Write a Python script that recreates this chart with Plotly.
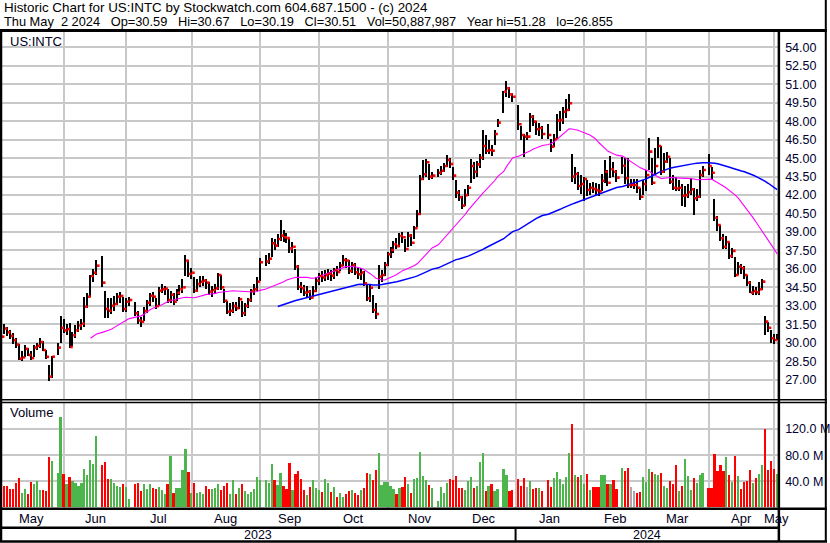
import pandas as pd
import plotly.graph_objects as go

W, H = 830, 543

# ---------------- data ----------------
holidays = ["2023-05-29", "2023-06-19", "2023-07-04", "2023-09-04", "2023-11-23",
            "2023-12-25", "2024-01-01", "2024-01-15", "2024-02-19", "2024-03-29"]

high = [
    # May 2023
    31.6, 31.5, 31.3, 31.0, 30.8, 30.4, 29.9, 29.3, 29.8, 29.6, 29.3, 29.8, 30.0, 30.4, 30.1, 29.4, 28.2, 28.9, 30.0, 32.2,
    # Jun
    31.9, 31.5, 31.6, 30.9, 31.4, 31.8, 31.9, 33.7, 34.0, 35.5, 36.0, 36.7, 37.05, 34.2, 33.6, 33.6, 33.8, 34.0, 34.1, 33.7, 33.6,
    # Jul
    33.7, 33.3, 32.6, 32.1, 32.9, 33.5, 34.0, 34.1, 33.6, 34.5, 34.8, 34.6, 34.4, 34.2, 34.0, 34.4, 34.7, 35.2, 37.13, 36.7,
    # Aug
    36.1, 35.3, 35.2, 35.4, 35.4, 35.2, 34.9, 34.6, 34.8, 35.7, 35.5, 34.4, 33.4, 33.2, 33.3, 33.3, 33.7, 33.4, 33.2, 33.6, 34.4, 34.8, 35.3,
    # Sep
    36.9, 37.1, 37.3, 38.5, 38.4, 38.8, 39.97, 39.2, 38.9, 38.4, 38.2, 37.6, 36.3, 34.9, 34.7, 34.6, 34.3, 34.6, 35.3, 35.7,
    # Oct
    35.8, 35.9, 36.0, 35.9, 36.1, 36.2, 36.6, 37.1, 36.9, 36.7, 36.6, 36.5, 36.1, 36.1, 35.8, 34.8, 34.7, 33.9, 33.2, 36.3, 35.9, 36.6,
    # Nov
    37.4, 37.8, 38.3, 38.5, 38.9, 39.0, 38.4, 39.0, 38.8, 39.5, 40.8, 43.63, 44.85, 44.9, 44.5, 43.9, 44.1, 44.4, 44.6, 45.26, 45.0,
    # Dec
    44.3, 43.23, 42.4, 41.9, 42.5, 42.8, 44.9, 44.7, 44.8, 45.3, 47.3, 46.9, 46.5, 46.1, 47.3, 48.2, 50.5, 51.28, 50.8, 50.3,
    # Jan 2024
    49.33, 47.6, 47.0, 47.1, 48.7, 48.5, 48.0, 47.9, 47.6, 47.8, 46.6, 47.0, 48.6, 48.8, 49.2, 49.8, 50.2, 45.3, 44.3, 43.9, 43.6,
    # Feb
    43.5, 43.2, 43.0, 43.1, 43.0, 42.9, 43.7, 44.85, 44.0, 45.2, 44.7, 44.0, 45.1, 45.0, 45.0, 43.3, 43.3, 43.3, 42.6, 43.2,
    # Mar
    44.0, 46.62, 45.0, 45.8, 46.7, 46.0, 45.4, 45.5, 45.0, 43.6, 43.5, 43.2, 42.9, 42.7, 42.9, 43.4, 42.6, 42.5, 44.0, 44.4,
    # Apr
    45.34, 44.3, 41.7, 40.3, 39.6, 38.8, 38.7, 38.2, 37.7, 37.0, 36.6, 36.4, 36.2, 35.5, 35.0, 34.6, 34.5, 34.9, 35.2, 32.17, 31.7, 31.0,
    # May 2024
    30.7, 30.67,
]

low = [
    30.1, 30.7, 30.55, 30.3, 29.9, 29.6, 28.6, 28.5, 28.8, 28.9, 28.6, 28.8, 29.4, 29.6, 29.3, 28.7, 26.86, 27.1, 29.0, 30.0,
    30.8, 30.6, 29.55, 29.7, 30.4, 30.9, 31.0, 31.3, 32.8, 33.7, 34.9, 35.5, 34.55, 32.0, 32.0, 32.3, 32.6, 33.1, 33.2, 32.5, 32.5,
    33.0, 32.2, 31.5, 31.3, 31.8, 32.4, 33.0, 33.3, 32.7, 33.0, 34.0, 33.9, 33.2, 33.2, 33.1, 33.4, 33.9, 34.0, 35.4, 35.3,
    35.2, 34.0, 34.1, 34.5, 34.6, 34.4, 33.9, 33.7, 34.0, 34.3, 34.3, 33.2, 32.3, 32.2, 32.4, 32.6, 32.7, 32.1, 32.2, 32.8, 33.3, 33.9, 34.2,
    35.0, 36.2, 36.4, 37.0, 37.5, 37.8, 38.3, 38.2, 38.1, 37.3, 37.3, 35.9, 34.3, 34.0, 33.8, 33.7, 33.5, 33.7, 34.1, 34.7,
    34.9, 35.0, 35.1, 35.0, 35.2, 35.4, 35.8, 36.2, 36.1, 35.6, 35.7, 35.5, 35.2, 35.1, 34.6, 33.4, 33.3, 32.4, 31.93, 34.4, 34.9, 35.4,
    36.2, 36.9, 37.3, 37.6, 37.8, 38.1, 37.4, 37.8, 37.9, 38.4, 39.4, 40.4, 43.2, 43.5, 43.2, 43.3, 43.5, 43.6, 43.9, 44.3, 44.2,
    43.2, 41.74, 41.5, 40.9, 41.1, 41.9, 43.0, 43.3, 43.5, 44.2, 44.85, 45.3, 45.3, 45.2, 46.1, 47.5, 48.65, 50.0, 49.9, 49.6,
    47.3, 46.5, 45.1, 46.5, 47.16, 47.6, 46.9, 46.8, 46.6, 46.6, 45.5, 45.9, 46.6, 47.2, 47.8, 48.3, 48.8, 43.1, 42.9, 42.4, 42.1,
    41.5, 41.9, 42.0, 42.2, 42.0, 41.9, 42.3, 43.0, 42.7, 43.4, 43.5, 43.1, 43.7, 42.9, 42.6, 42.6, 42.5, 42.2, 41.6, 42.0,
    42.3, 44.0, 42.8, 43.6, 45.0, 43.6, 43.8, 44.6, 42.9, 42.4, 42.3, 42.3, 41.1, 41.0, 41.8, 42.0, 40.4, 41.5, 41.8, 43.5,
    43.6, 43.3, 39.9, 39.1, 38.3, 37.6, 37.6, 36.8, 36.9, 35.3, 35.5, 35.6, 35.2, 34.6, 34.0, 33.9, 33.9, 33.9, 34.3, 30.6, 30.9, 30.0,
    29.9, 30.19,
]

close = [
    30.49, 31.15, 30.85, 30.55, 30.2, 29.85, 28.7, 28.8, 29.5, 29.0, 28.75, 29.6, 29.75, 30.05, 29.4, 28.85, 27.24, 28.86, 29.6, 31.2,
    31.0, 31.1, 29.65, 30.6, 31.0, 31.4, 31.55, 32.93, 33.74, 35.42, 35.69, 36.26, 34.88, 32.74, 32.6, 33.0, 33.15, 33.74, 33.8, 32.74, 33.33,
    33.47, 32.39, 31.8, 31.7, 32.58, 33.25, 33.82, 33.74, 32.98, 34.23, 34.34, 34.4, 33.47, 33.9, 33.33, 34.06, 34.34, 34.5, 36.67, 35.59,
    35.69, 34.23, 34.77, 34.96, 35.05, 34.88, 34.15, 34.28, 34.42, 35.5, 34.5, 33.41, 32.52, 32.6, 32.98, 32.8, 33.53, 32.4, 33.0, 33.47, 34.2, 34.34, 34.96,
    36.54, 36.6, 36.83, 38.08, 37.89, 38.43, 38.7, 38.57, 38.5, 37.67, 37.8, 36.18, 34.55, 34.42, 34.07, 34.14, 33.66, 34.2, 35.04, 35.42,
    35.3, 35.5, 35.6, 35.45, 35.9, 35.75, 36.27, 36.72, 36.67, 35.83, 36.32, 35.72, 35.56, 35.7, 34.83, 33.61, 34.47, 32.66, 32.33, 35.37, 35.5, 36.32,
    37.19, 37.54, 38.0, 37.85, 38.67, 38.57, 37.62, 38.7, 38.13, 39.3, 40.46, 43.31, 43.69, 44.67, 43.5, 43.58, 43.82, 43.98, 44.37, 44.85, 44.53,
    43.58, 42.2, 41.82, 41.14, 42.0, 42.6, 44.37, 43.9, 44.5, 45.04, 45.99, 45.61, 45.67, 45.61, 46.97, 47.89, 50.41, 50.68, 50.19, 50.0,
    47.76, 46.89, 46.75, 46.75, 48.37, 47.97, 47.35, 47.45, 46.97, 46.89, 45.94, 46.56, 48.05, 48.1, 48.78, 48.92, 49.46, 43.5, 43.72, 42.74, 42.9,
    43.31, 42.41, 42.6, 42.5, 42.4, 42.3, 43.17, 43.9, 43.0, 44.1, 43.9, 43.42, 44.39, 43.37, 42.82, 42.82, 42.82, 42.6, 41.87, 42.9,
    43.63, 45.53, 43.0, 44.37, 45.99, 43.9, 44.72, 45.12, 43.09, 42.6, 42.54, 42.6, 41.95, 42.0, 42.23, 42.47, 41.74, 41.87, 43.63, 44.04,
    44.37, 43.82, 40.16, 39.57, 38.49, 37.8, 38.19, 37.05, 37.46, 35.5, 36.18, 36.05, 35.5, 34.88, 34.07, 34.2, 34.1, 34.34, 34.96, 31.71, 31.22, 30.36,
    30.22, 30.51,
]

volume_m = [
    43, 33, 32.8, 27.7, 27.7, 37.9, 45.6, 22.6, 27.7, 20, 38.9, 35.4, 40.5, 26.7, 26.7, 25.1, 77.4, 71.3, 53.3, 137.9,
    51.8, 35.4, 46.6, 40.5, 37.9, 32.8, 37.9, 58.4, 49.7, 72.3, 67.2, 109.7, 64.6, 69.7, 43.1, 43.1, 37.9, 32.8, 31.3, 35.4, 31.3,
    12.3, 36.4, 37.9, 25.1, 35.4, 27.7, 35.4, 29.2, 27.7, 31.3, 26.2, 21.1, 35.4, 78.9, 22.6, 29.2, 30.2, 56.9, 89.2, 54.3,
    22.6, 37.9, 22.6, 23.6, 21.1, 32.8, 27.7, 27.7, 30.2, 35.4, 26.2, 32.8, 37.9, 21.1, 42.1, 21.1, 30.2, 36.4, 25.1, 20, 23.6, 28.2, 46.6,
    42.1, 42.1, 37.9, 67.1, 42, 34.3, 52.8, 32.8, 28.2, 68.2, 26.6, 51.2, 55.8, 43.5, 26.6, 18.9, 31.2, 42, 29.7, 26.6,
    23.5, 43.5, 37.4, 23.5, 31.2, 15.8, 22, 15.8, 20.5, 25.1, 26.6, 22, 18.9, 26.6, 29.7, 52.8, 51.2, 42, 57.4, 83.5, 34.3, 38.9,
    38.9, 32.8, 28.2, 20.5, 29.7, 31.2, 46.6, 35.8, 22, 43.5, 45.1, 85.1, 48.2, 42, 34.3, 29.7, 9.7, 31.2, 22, 37.4, 43.5,
    42, 48.2, 29.7, 29.7, 26.6, 40.5, 46.6, 29.7, 32.8, 69.7, 83.5, 25.1, 32.8, 35.8, 25.1, 28.2, 58.9, 49.7, 25.1, 26.6,
    43.5, 32.8, 45.1, 31.2, 40.5, 28.2, 29.7, 29.7, 25.1, 42, 31.2, 45.1, 54.3, 43.1, 35.4, 46.6, 83, 127.7, 49.7, 46.6, 49.7,
    36.4, 50.8, 26.2, 31.3, 31.3, 31.3, 49.7, 49.7, 35.4, 35.4, 42.6, 28.7, 59.9, 55.8, 59.9, 31.3, 25.1, 22, 23.6, 46.6,
    39.5, 58.4, 54.3, 50.8, 49.7, 52.3, 32.3, 29.7, 40.5, 35.9, 65.1, 25.1, 32.8, 74.3, 48.2, 26.7, 45.1, 37.4, 49.7, 52.8,
    29.7, 29.7, 82, 55.8, 65.1, 55.8, 77.4, 49.7, 38.9, 78.9, 48.2, 28.2, 38.9, 40.5, 57.4, 37.4, 45.1, 51.3, 65.1, 120.5, 57.4, 71.3,
    58.9, 50.89,
]

# U = close up, D = close down, N = unchanged (volume bar colour)
vol_dir = list(
    "NDDDDDDUUDDUUUDDDUUU"
    "DUDUUUUUUUUUDDDUUUUDU"
    "UDDDUUUDDUUUDUDUUUUD"
    "UDUUUDDUUUDDDUUDUDUUUUU"
    "UUUUDUUDDDUDDDDUDUUU"
    "DUUDUDUUDDUDDUDDUDDUUU"
    "UUUDUDDUDUUUUUDUUUUUD"
    "DDDDUUUDUUUDUDUUUUDD"
    "DDDNUDDUDDDUUUUUUDUDU"
    "UDUDDDUUDUDDUDDNNDDU"
    "UUDUUDUUDDDUDUUUDUUU"
    "DDDDDDUDUDUDDDDUDUUDDD"
    "DU"
)

tick_prices = [27.0 + 1.5 * k for k in range(19)]
vol_ticks = [40, 80, 120]

# ---------------- derived positions ----------------
assert len(high) == len(low) == len(close) == len(volume_m) == len(vol_dir) == 252

weekdays = pd.bdate_range("2023-05-03", "2024-05-02")
trade_days = weekdays[~weekdays.isin(pd.to_datetime(holidays))]
slot = weekdays.get_indexer(trade_days)          # holidays keep an empty slot

cl = pd.Series(close)
ma30 = cl.rolling(30).mean()
ma90 = cl.rolling(90).mean()

month_starts = pd.date_range("2023-06-01", "2024-05-01", freq="MS")
grid_slot = weekdays.searchsorted(month_starts, side="right") - 1
x_lo, x_hi = -0.47, 261.35
bounds = [x_lo] + list(grid_slot) + [x_hi]
month_centers = [(a + b) / 2 for a, b in zip(bounds[:-1], bounds[1:])]
month_names = ["May"] + [d.strftime("%b") for d in month_starts]
jan_slot = grid_slot[list(month_starts).index(pd.Timestamp("2024-01-01"))]

hl = [h - l for h, l in zip(high, low)]
col_map = {"U": "#4cb54c", "D": "#ff0000", "N": "#aaaaaa"}
vcolors = [col_map[d] for d in vol_dir]


def fx(px):
    return px / W


def fy(py):
    return 1 - py / H


FONT = "Arial, Liberation Sans, sans-serif"
GRID = "#c8c8c8"

fig = go.Figure()
fig.add_trace(go.Bar(x=slot, y=hl, base=low, width=0.5, marker=dict(color="black", line=dict(width=0)),
                     xaxis="x", yaxis="y", showlegend=False, hoverinfo="skip"))
fig.add_trace(go.Scatter(x=slot, y=ma30, mode="lines", line=dict(color="#ff00ff", width=1.1),
                         xaxis="x", yaxis="y", showlegend=False, hoverinfo="skip"))
fig.add_trace(go.Scatter(x=slot, y=ma90, mode="lines", line=dict(color="#0000ff", width=1.5),
                         xaxis="x", yaxis="y", showlegend=False, hoverinfo="skip"))
fig.add_trace(go.Scatter(x=slot + 0.6, y=close, mode="markers",
                         marker=dict(symbol="square", size=2.6, color="#ff0000", line=dict(width=0)),
                         xaxis="x", yaxis="y", showlegend=False, hoverinfo="skip"))
fig.add_trace(go.Bar(x=slot, y=volume_m, width=0.58, marker=dict(color=vcolors, line=dict(width=0)),
                     xaxis="x2", yaxis="y2", showlegend=False, hoverinfo="skip"))

xcommon = dict(domain=[0, fx(781)], range=[x_lo, x_hi], tickvals=list(grid_slot), showticklabels=False,
               showgrid=True, gridcolor=GRID, gridwidth=1.5, zeroline=False, showline=False, ticks="")
tickfont = dict(family=FONT, size=12.5, color="#000030")

fig.update_layout(
    width=W, height=H, autosize=False,
    margin=dict(l=0, r=0, t=0, b=0),
    paper_bgcolor="white", plot_bgcolor="white",
    barmode="overlay", bargap=0,
    xaxis=dict(**xcommon, anchor="y"),
    xaxis2=dict(**xcommon, anchor="y2"),
    yaxis=dict(domain=[fy(400), fy(31)], range=[25.34, 55.34], side="right", anchor="x",
               tickvals=tick_prices, ticktext=[f"{v:.2f}" for v in tick_prices], tickfont=tickfont,
               showgrid=True, gridcolor=GRID, gridwidth=1.5, zeroline=False, showline=False, ticks="",
               ticklabelstandoff=6),
    yaxis2=dict(domain=[fy(508), fy(402)], range=[-1, 161.5], side="right", anchor="x2",
                tickvals=vol_ticks, ticktext=[f"{v:.1f} M" for v in vol_ticks], tickfont=tickfont,
                showgrid=True, gridcolor=GRID, gridwidth=1.5, zeroline=False, showline=False, ticks="",
                ticklabelstandoff=6),
)

# frame / separators
lines = [
    (0, 30.5, 830, 30.5, 3),        # under header
    (0, 399.8, 830, 399.8, 1.5),    # double line between panels
    (0, 402.6, 830, 402.6, 1.5),
    (0, 508.8, 830, 508.8, 2.5),    # bottom of volume panel
    (0, 527.8, 781, 527.8, 2.5),    # months / years separator
    (0, 541.6, 830, 541.6, 2.5),    # bottom border
    (1, 30, 1, 542, 2.5),           # left border
    (781.7, 30, 781.7, 542, 2.5),   # right axis separator
    (828.8, 0, 828.8, 542, 2),      # right border
]
shapes = []
for x0, y0, x1, y1, w in lines:
    shapes.append(dict(type="line", xref="paper", yref="paper", x0=fx(x0), y0=fy(y0), x1=fx(x1), y1=fy(y1),
                       line=dict(color="black", width=w), layer="above"))
# year divider at January gridline
shapes.append(dict(type="line", xref="x", yref="paper", x0=jan_slot, x1=jan_slot, y0=fy(528), y1=fy(541),
                   line=dict(color="black", width=2), layer="above"))

annotations = []
sp = "\u00a0"
header1 = "Historic Chart for US:INTC by Stockwatch.com 604.687.1500 - (c) 2024"
header2 = (f"Thu May{sp}{sp}2 2024{sp*3}Op=30.59{sp*3}Hi=30.67{sp*3}Lo=30.19{sp*3}Cl=30.51"
           f"{sp*3}Vol=50,887,987{sp*3}Year hi=51.28{sp*3}lo=26.855")
for txt, yy, fs in [(header1, 7.5, 13.4), (header2, 21.5, 12.8)]:
    annotations.append(dict(text=txt, xref="paper", yref="paper", x=fx(2), y=fy(yy), xanchor="left",
                            yanchor="middle", showarrow=False, font=dict(family=FONT, size=fs, color="black")))
annotations.append(dict(text="US:INTC", xref="paper", yref="paper", x=fx(8.5), y=fy(41.5), xanchor="left",
                        yanchor="middle", showarrow=False, font=dict(family=FONT, size=13, color="#000020")))
annotations.append(dict(text="Volume", xref="paper", yref="paper", x=fx(8.5), y=fy(412.5), xanchor="left",
                        yanchor="middle", showarrow=False, font=dict(family=FONT, size=13, color="#000020")))
for name, cx in zip(month_names, month_centers):
    annotations.append(dict(text=name, xref="x", yref="paper", x=cx, y=fy(518), xanchor="center",
                            yanchor="middle", showarrow=False, font=dict(family=FONT, size=13, color="#000020")))
for name, cx in [("2023", (x_lo + jan_slot) / 2), ("2024", (jan_slot + x_hi) / 2)]:
    annotations.append(dict(text=name, xref="x", yref="paper", x=cx, y=fy(534.5), xanchor="center",
                            yanchor="middle", showarrow=False, font=dict(family=FONT, size=12.5, color="#000020")))

fig.update_layout(shapes=shapes, annotations=annotations)
fig.write_html("out.html", config={"displayModeBar": False},
               post_script="document.body.style.margin='0';document.body.style.padding='0';")
